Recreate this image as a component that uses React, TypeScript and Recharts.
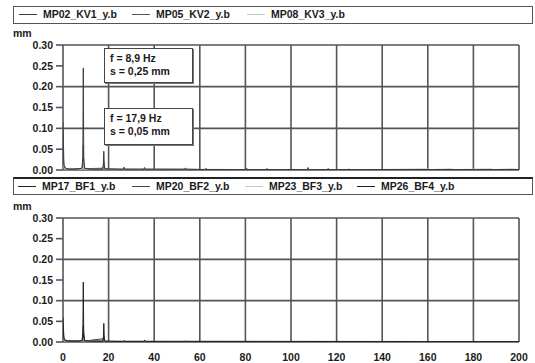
import { CartesianGrid, Line, LineChart, XAxis, YAxis } from "recharts";

// frequency [Hz], amplitude [mm]
const mp02: [number, number][] = [
  [0, 0.115], [0.4, 0.012], [1.2, 0.004], [3, 0.002], [6, 0.002], [8.3, 0.004], [8.7, 0.03],
  [8.9, 0.245], [9.1, 0.03], [9.5, 0.004], [12, 0.002], [17.4, 0.003], [17.7, 0.012],
  [17.9, 0.045], [18.1, 0.012], [18.4, 0.003], [26.5, 0.002], [26.8, 0.007], [27.1, 0.002],
  [35.5, 0.002], [35.8, 0.006], [36.1, 0.002], [53.4, 0.002], [53.7, 0.005], [54, 0.002],
  [62.4, 0.001], [62.7, 0.004], [63, 0.001], [80.3, 0.001], [80.6, 0.004], [80.9, 0.001],
  [107.2, 0.001], [107.5, 0.006], [107.8, 0.001], [200, 0.001],
];
const mp05: [number, number][] = [
  [0, 0.04], [0.5, 0.006], [2, 0.002], [8.4, 0.004], [8.7, 0.018], [8.9, 0.06], [9.1, 0.018],
  [9.4, 0.004], [17.5, 0.002], [17.9, 0.02], [18.3, 0.002], [89.2, 0.001], [89.5, 0.004],
  [89.8, 0.001], [116, 0.001], [116.3, 0.004], [116.6, 0.001], [125, 0.001], [125.3, 0.003],
  [125.6, 0.001], [200, 0.001],
];
const mp08: [number, number][] = [
  [0, 0.02], [0.5, 0.003], [8.6, 0.002], [8.9, 0.012], [9.2, 0.002], [17.9, 0.006],
  [18.2, 0.001], [135.2, 0.001], [135.5, 0.003], [135.8, 0.001], [160, 0.003], [160.3, 0.001],
  [170.6, 0.003], [171, 0.001], [188, 0.003], [188.3, 0.001], [197, 0.003], [200, 0.001],
];

const mp17: [number, number][] = [
  [0, 0.06], [0.4, 0.008], [1, 0.005], [2, 0.003], [6, 0.002], [8.3, 0.003], [8.7, 0.02],
  [8.9, 0.145], [9.1, 0.02], [9.5, 0.003], [12, 0.002], [17.4, 0.002], [17.7, 0.01],
  [17.9, 0.045], [18.1, 0.01], [18.4, 0.002], [26.6, 0.001], [26.9, 0.004], [27.2, 0.001],
  [35.5, 0.001], [35.8, 0.005], [36.1, 0.001], [53.5, 0.001], [53.8, 0.003], [54.1, 0.001],
  [200, 0.001],
];
const mp20: [number, number][] = [
  [0, 0.03], [0.5, 0.005], [2, 0.002], [8.5, 0.003], [8.9, 0.04], [9.3, 0.003], [17.6, 0.002],
  [17.9, 0.015], [18.2, 0.002], [200, 0.001],
];
const mp23: [number, number][] = [
  [0, 0.015], [0.5, 0.003], [8.6, 0.002], [8.9, 0.01], [9.2, 0.002], [17.9, 0.005],
  [18.2, 0.001], [200, 0.001],
];
const mp26: [number, number][] = [
  [0, 0.02], [0.5, 0.004], [2, 0.002], [8.6, 0.002], [8.9, 0.025], [9.2, 0.002],
  [17.9, 0.008], [18.2, 0.001], [200, 0.001],
];

const xTicks = [0, 20, 40, 60, 80, 100, 120, 140, 160, 180, 200];
const yTicks = [0, 0.05, 0.1, 0.15, 0.2, 0.25, 0.3];

const topSeries = [
  { name: "MP02_KV1_y.b", data: mp02, color: "#3c3c3c", lx: 19 },
  { name: "MP05_KV2_y.b", data: mp05, color: "#555555", lx: 132 },
  { name: "MP08_KV3_y.b", data: mp08, color: "#c8c8c8", lx: 247 },
];
const bottomSeries = [
  { name: "MP17_BF1_y.b", data: mp17, color: "#222222", lx: 18 },
  { name: "MP20_BF2_y.b", data: mp20, color: "#444444", lx: 132 },
  { name: "MP23_BF3_y.b", data: mp23, color: "#c8c8c8", lx: 245 },
  { name: "MP26_BF4_y.b", data: mp26, color: "#222222", lx: 357 },
];

const font = "'Liberation Sans', Arial, sans-serif";
const gridColor = "#555";
const txt = { fontSize: 10.5, fontWeight: 700, color: "#1a1a1a" } as const;

type Series = { name: string; data: [number, number][]; color: string; lx: number };

function LegendBox({ top, items, thickTop }: { top: number; items: Series[]; thickTop?: boolean }) {
  return (
    <div
      style={{
        position: "absolute",
        left: 13,
        top,
        width: 520,
        height: 18,
        border: "1px solid #555",
        borderTop: thickTop ? "2px solid #222" : "1px solid #555",
        boxSizing: "border-box",
        background: "#fff",
      }}
    >
      {items.map((s) => (
        <div key={s.name}>
          <div
            style={{
              position: "absolute",
              left: s.lx - 14,
              top: 7,
              width: 18,
              height: 0,
              borderTop: `1px solid ${s.color}`,
            }}
          />
          <div
            style={{
              ...txt,
              position: "absolute",
              left: s.lx - 14 + 24,
              top: 1,
              lineHeight: "13px",
              whiteSpace: "nowrap",
            }}
          >
            {s.name}
          </div>
        </div>
      ))}
    </div>
  );
}

function Note({ top, height, lines }: { top: number; height: number; lines: string[] }) {
  return (
    <div
      style={{
        ...txt,
        position: "absolute",
        left: 104,
        top,
        width: 89,
        height,
        border: "1px solid #444",
        boxShadow: "1px 1px 0 #777",
        boxSizing: "border-box",
        background: "#fff",
        padding: "3px 0 0 5px",
        lineHeight: "13px",
      }}
    >
      {lines.map((l) => (
        <div key={l}>{l}</div>
      ))}
    </div>
  );
}

function Spectrum({
  series,
  height,
  marginTop,
  showX,
}: {
  series: Series[];
  height: number;
  marginTop: number;
  showX: boolean;
}) {
  const tick = { fontSize: 10.5, fontWeight: 700, fill: "#1a1a1a", fontFamily: font };
  return (
    <LineChart
      width={535}
      height={height}
      margin={{ top: marginTop, right: 16, left: 0, bottom: showX ? 2 : 10 }}
    >
      <CartesianGrid stroke={gridColor} strokeWidth={1.6} />
      <XAxis
        type="number"
        dataKey="f"
        domain={[0, 200]}
        ticks={xTicks}
        allowDataOverflow
        hide={!showX}
        height={19}
        axisLine={false}
        tickLine={false}
        tickMargin={6}
        tick={tick}
      />
      <YAxis
        type="number"
        domain={[0, 0.3]}
        ticks={yTicks}
        allowDataOverflow
        width={63}
        axisLine={false}
        tickLine={{ stroke: gridColor, strokeWidth: 1.6 }}
        tickSize={7}
        tickMargin={3}
        tickFormatter={(v: number) => v.toFixed(2)}
        tick={tick}
      />
      {series.map((s) => (
        <Line
          key={s.name}
          data={s.data.map(([f, v]) => ({ f, s: v }))}
          dataKey="s"
          type="linear"
          stroke={s.color}
          strokeWidth={1}
          dot={false}
          isAnimationActive={false}
        />
      ))}
    </LineChart>
  );
}

export default function App() {
  return (
    <div
      style={{
        position: "absolute",
        left: 0,
        top: 0,
        width: 535,
        height: 363,
        background: "#fff",
        fontFamily: font,
        overflow: "hidden",
      }}
    >
      <div style={{ position: "absolute", left: 0, top: 0 }}>
        <Spectrum series={[...topSeries].reverse()} height={180} marginTop={45} showX={false} />
      </div>
      <div style={{ position: "absolute", left: 0, top: 180 }}>
        <Spectrum series={[...bottomSeries].reverse()} height={183} marginTop={38} showX />
      </div>
      <LegendBox top={6} items={topSeries} />
      <LegendBox top={177} items={bottomSeries} thickTop />
      <div style={{ ...txt, position: "absolute", left: 13, top: 27 }}>mm</div>
      <div style={{ ...txt, position: "absolute", left: 13, top: 200 }}>mm</div>
      <Note top={48} height={35} lines={["f = 8,9 Hz", "s = 0,25 mm"]} />
      <Note top={108} height={37} lines={["f = 17,9 Hz", "s = 0,05 mm"]} />
    </div>
  );
}
